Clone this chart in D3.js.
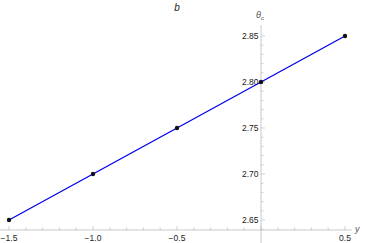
<!DOCTYPE html>
<html>
<head>
<meta charset="utf-8">
<script src="https://cdn.jsdelivr.net/npm/d3@7"></script>
<style>
  body { margin: 0; background: #fff; }
  text { font-family: "Liberation Sans", Arial, sans-serif; }
</style>
</head>
<body>
<div id="chart"></div>
<script>
// data
const xValues = [-1.5, -1.0, -0.5, 0.0, 0.5];
const thetaValues = [2.65, 2.70, 2.75, 2.80, 2.85];
const xTicks = [-1.5, -1.0, -0.5, 0.5];
const yTicks = [2.65, 2.70, 2.75, 2.80, 2.85];

const W = 365, H = 243;
const svg = d3.select("#chart").append("svg")
  .attr("width", W).attr("height", H);

// scales: 84 px per 0.5 on x, 46 px per 0.05 on y
const x = d3.scaleLinear().domain([-1.5, 0.5]).range([9, 345]);
const y = d3.scaleLinear().domain([2.65, 2.85]).range([220, 36]);
const axisY = 230; // where the horizontal axis sits
const axisColor = "#bbb";

// horizontal axis
svg.append("line")
  .attr("x1", 0).attr("x2", 352)
  .attr("y1", axisY).attr("y2", axisY)
  .attr("stroke", axisColor).attr("stroke-width", 0.8);

// minor + major x ticks (pointing up)
d3.range(-15, 6).forEach(i => {
  const v = i / 10;
  const major = i % 5 === 0;
  svg.append("line")
    .attr("x1", x(v)).attr("x2", x(v))
    .attr("y1", axisY).attr("y2", axisY - (major ? 4 : 2.5))
    .attr("stroke", axisColor).attr("stroke-width", 0.7);
});
svg.selectAll(".xl").data(xTicks).join("text")
  .attr("x", d => x(d)).attr("y", axisY + 11)
  .attr("text-anchor", "middle")
  .attr("font-size", 8.5).attr("fill", "#222")
  .text(d => d3.format(".1f")(d).replace("-", "\u2212"));

// vertical axis at x = 0
svg.append("line")
  .attr("x1", x(0)).attr("x2", x(0))
  .attr("y1", 25).attr("y2", H)
  .attr("stroke", axisColor).attr("stroke-width", 0.8);

d3.range(264, 286).forEach(i => {
  const v = i / 100;
  const major = i % 5 === 0;
  svg.append("line")
    .attr("x1", x(0)).attr("x2", x(0) + (major ? 4 : 2.5))
    .attr("y1", y(v)).attr("y2", y(v))
    .attr("stroke", axisColor).attr("stroke-width", 0.7);
});
svg.selectAll(".yl").data(yTicks).join("text")
  .attr("x", x(0) - 2.5).attr("y", d => y(d) + 3)
  .attr("text-anchor", "end")
  .attr("font-size", 8.5).attr("fill", "#222")
  .text(d => d3.format(".2f")(d));

// axis labels and title
const lab = svg.append("text")
  .attr("x", 256).attr("y", 18)
  .attr("font-size", 9).attr("font-style", "italic").attr("fill", "#555");
lab.append("tspan").text("\u03b8");
lab.append("tspan").attr("font-size", 6).attr("dy", 2).text("c");

svg.append("text")
  .attr("x", 355).attr("y", 232)
  .attr("font-size", 9).attr("font-style", "italic").attr("fill", "#555")
  .text("y");

svg.append("text")
  .attr("x", 177).attr("y", 11)
  .attr("text-anchor", "middle")
  .attr("font-size", 10).attr("font-style", "italic").attr("fill", "#222")
  .text("b");

// data line and points
const pts = xValues.map((v, i) => [v, thetaValues[i]]);
svg.append("path")
  .datum(pts)
  .attr("fill", "none")
  .attr("stroke", "#0000ee")
  .attr("stroke-width", 1.3)
  .attr("d", d3.line().x(d => x(d[0])).y(d => y(d[1])));

svg.selectAll(".pt").data(pts).join("circle")
  .attr("cx", d => x(d[0])).attr("cy", d => y(d[1]))
  .attr("r", 2.2).attr("fill", "#111");
</script>
</body>
</html>
